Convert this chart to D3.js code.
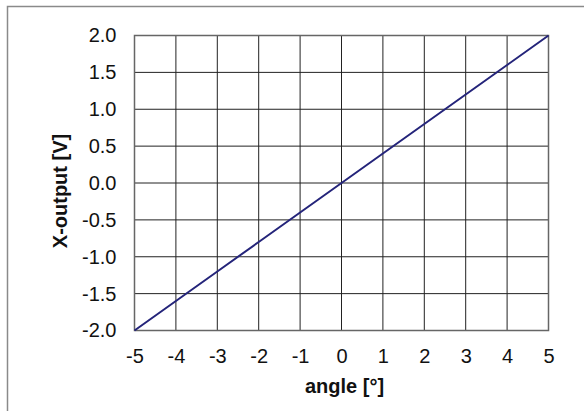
<!DOCTYPE html>
<html><head><meta charset="utf-8">
<script src="https://cdn.jsdelivr.net/npm/d3@7"></script>
<style>body{margin:0;background:#fff;}svg{display:block;font-family:Arial,"Liberation Sans",sans-serif;}</style>
</head><body><svg id="c" width="584" height="411"></svg>
<script>
const angles = [-5,-4,-3,-2,-1,0,1,2,3,4,5];
const xOutput = [-2.0,-1.6,-1.2,-0.8,-0.4,0.0,0.4,0.8,1.2,1.6,2.0];
const xTicks = [-5,-4,-3,-2,-1,0,1,2,3,4,5];
const yTicks = [-2.0,-1.5,-1.0,-0.5,0.0,0.5,1.0,1.5,2.0];

const svg = d3.select('#c');
const L=134.5, R=548.5, T=35.5, B=330.5;
const x = d3.scaleLinear().domain([-5,5]).range([L,R]);
const y = d3.scaleLinear().domain([-2,2]).range([B,T]);
const FONT = 'Arial,"Liberation Sans",sans-serif';

// outer frame (right/bottom edges fall outside the picture)
svg.append('rect').attr('x',7.5).attr('y',6.5).attr('width',640).attr('height',480)
  .attr('fill','none').attr('stroke','#8a8a8a').attr('stroke-width',1.5);

// grid
const g = svg.append('g');
g.selectAll('line.v').data(xTicks).join('line').attr('class','v')
  .attr('x1',d=>x(d)).attr('x2',d=>x(d)).attr('y1',T).attr('y2',B)
  .attr('stroke','#222').attr('stroke-width',1);
g.selectAll('line.h').data(yTicks).join('line').attr('class','h')
  .attr('y1',d=>y(d)).attr('y2',d=>y(d)).attr('x1',L).attr('x2',R)
  .attr('stroke','#222').attr('stroke-width',1);
svg.append('rect').attr('x',L).attr('y',T).attr('width',R-L).attr('height',B-T)
  .attr('fill','none').attr('stroke','#666').attr('stroke-width',1.5);

// tick labels
const xAxis = svg.append('g').attr('transform',`translate(0,${B})`)
  .call(d3.axisBottom(x).tickValues(xTicks).tickSize(0).tickPadding(18).tickFormat(d=>String(d)));
xAxis.select('.domain').remove();
xAxis.attr('font-size',null).attr('font-family',null);
xAxis.selectAll('text').style('font-size','20px').attr('fill','#111').style('font-family',FONT);

const yAxis = svg.append('g').attr('transform',`translate(${L},0)`)
  .call(d3.axisLeft(y).tickValues(yTicks).tickSize(0).tickPadding(18).tickFormat(d=>d.toFixed(1)));
yAxis.select('.domain').remove();
yAxis.attr('font-size',null).attr('font-family',null);
yAxis.selectAll('text').style('font-size','20px').attr('fill','#111').style('font-family',FONT);

// series line
svg.append('path').datum(angles.map((a,i)=>[a,xOutput[i]]))
  .attr('d',d3.line().x(d=>x(d[0])).y(d=>y(d[1])))
  .attr('fill','none').attr('stroke','#24247a').attr('stroke-width',2);

// axis titles
svg.append('text').attr('x',(L+R)/2+3).attr('y',393).attr('text-anchor','middle')
  .style('font-size','20px').attr('font-weight','bold').attr('fill','#111').text('angle [°]');
svg.append('text').attr('transform',`translate(67,191) rotate(-90)`).attr('text-anchor','middle')
  .style('font-size','20px').attr('font-weight','bold').attr('fill','#111').text('X-output [V]');
</script></body></html>
